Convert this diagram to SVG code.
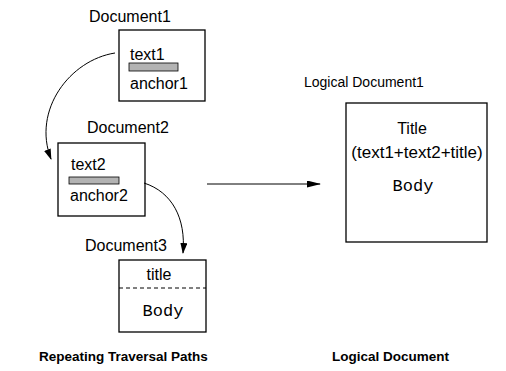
<svg xmlns="http://www.w3.org/2000/svg" width="506" height="371" viewBox="0 0 506 371">
  <style>
    .box { fill: #fff; stroke: #000; stroke-width: 1.3; }
    .bar { fill: #b3b3b3; stroke: #000; stroke-width: 0.8; }
    .lbl { font-family: "Liberation Sans", Arial, sans-serif; font-size: 16px; fill: #000; }
    .small { font-size: 14px; }
    .mono { font-family: "Liberation Mono", "Courier New", monospace; font-size: 17px; fill: #000; }
    .cap { font-family: "Liberation Sans", Arial, sans-serif; font-size: 13.5px; font-weight: bold; fill: #000; }
    .conn { fill: none; stroke: #000; stroke-width: 1; }
  </style>
  <defs>
    <marker id="arrow" markerWidth="11" markerHeight="7" refX="10" refY="3.5" orient="auto" markerUnits="userSpaceOnUse">
      <path d="M0,0 L11,3.5 L0,7 Z" fill="#000"/>
    </marker>
    <marker id="arrow-long" markerWidth="14" markerHeight="7" refX="13" refY="3.5" orient="auto" markerUnits="userSpaceOnUse">
      <path d="M0,0 L14,3.5 L0,7 Z" fill="#000"/>
    </marker>
  </defs>

  <rect width="506" height="371" fill="#fff"/>

  <!-- Document1 -->
  <g id="document1">
    <text class="lbl" x="89" y="22">Document1</text>
    <rect class="box" x="119" y="30" width="86" height="71"/>
    <text class="lbl" x="130" y="60">text1</text>
    <rect class="bar" x="129" y="63" width="49" height="8"/>
    <text class="lbl" x="130" y="89">anchor1</text>
  </g>

  <!-- Document2 -->
  <g id="document2">
    <text class="lbl" x="87" y="133">Document2</text>
    <rect class="box" x="58" y="143" width="87" height="73"/>
    <text class="lbl" x="71" y="170">text2</text>
    <rect class="bar" x="69" y="177" width="50" height="7"/>
    <text class="lbl" x="70" y="201">anchor2</text>
  </g>

  <!-- Document3 -->
  <g id="document3">
    <text class="lbl" x="85" y="251">Document3</text>
    <rect class="box" x="119" y="260" width="87" height="72"/>
    <line x1="119" y1="288" x2="206" y2="288" stroke="#000" stroke-width="1" stroke-dasharray="4,3"/>
    <text class="lbl" x="159" y="280" text-anchor="middle">title</text>
    <text class="mono" x="163" y="316" text-anchor="middle">Body</text>
  </g>

  <!-- Logical Document1 -->
  <g id="logical-document1">
    <text class="lbl small" x="304" y="87">Logical Document1</text>
    <rect class="box" x="346" y="103" width="141" height="139"/>
    <text class="lbl" x="412" y="134" text-anchor="middle">Title</text>
    <text class="lbl" x="417" y="158" text-anchor="middle" style="font-size:17px">(text1+text2+title)</text>
    <text class="mono" x="413" y="191" text-anchor="middle">Body</text>
  </g>

  <!-- Captions -->
  <g id="captions">
    <text class="cap" x="39" y="361">Repeating Traversal Paths</text>
    <text class="cap" x="332" y="361">Logical Document</text>
  </g>

  <!-- Connectors -->
  <g id="connectors">
    <path class="conn" d="M115,53 C70,60 32,110 51,159" marker-end="url(#arrow)"/>
    <path class="conn" d="M144,183 C172,192 186,218 183,253" marker-end="url(#arrow)"/>
    <line class="conn" x1="207" y1="184" x2="320" y2="184" marker-end="url(#arrow-long)"/>
  </g>
</svg>
